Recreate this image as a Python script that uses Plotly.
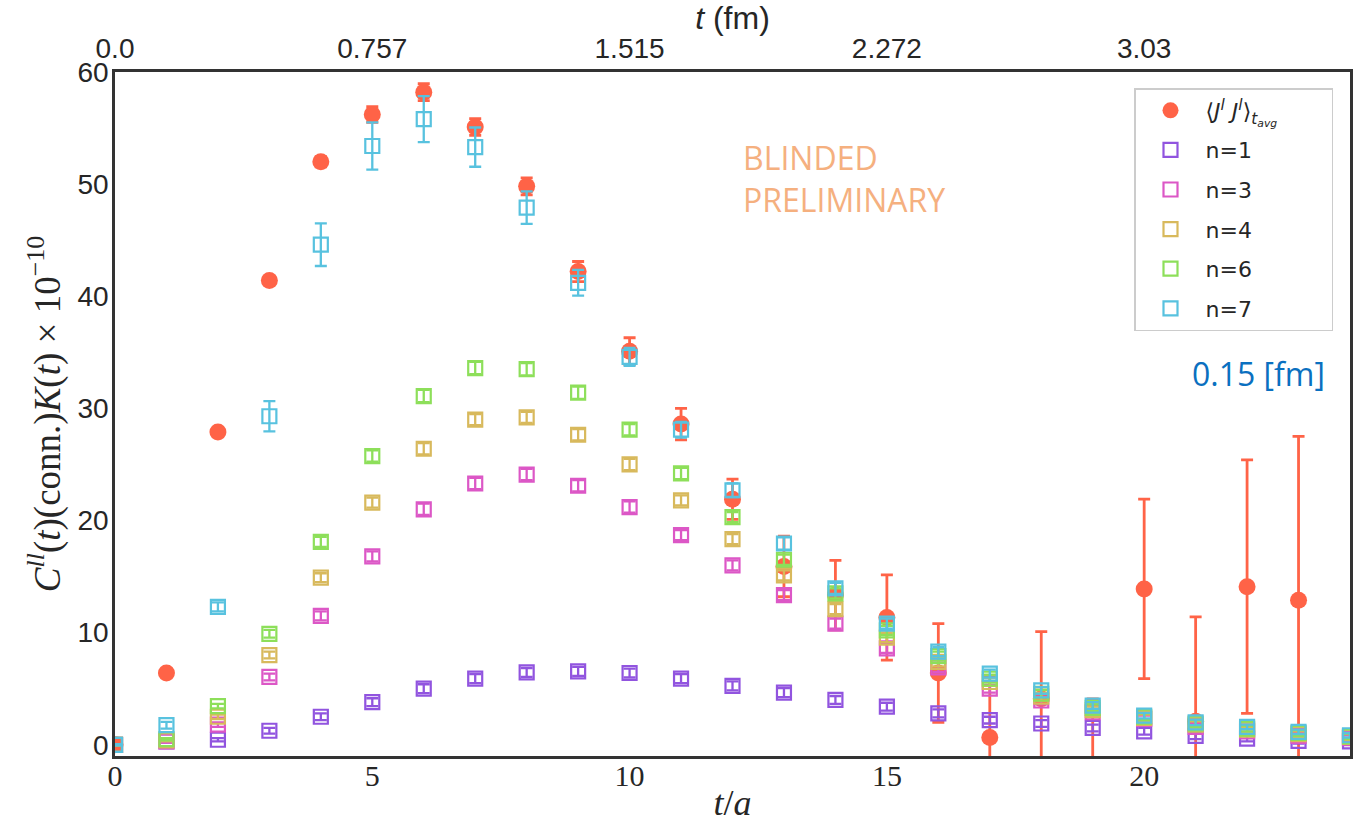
import plotly.graph_objects as go

# ---------------- data ----------------
t_red = list(range(0, 24))
jj_val = [0.0, 6.4, 27.9, 41.4, 52.0, 56.2, 58.2, 55.1, 49.8, 42.2, 35.1, 28.6,
          21.9, 15.9, 13.35, 11.35, 6.4, 0.65, 4.1, -5.0, 13.9, 2.1, 14.1, 12.9]
jj_err = [0.05, 0.1, 0.15, 0.25, 0.45, 0.7, 0.75, 0.75, 0.75, 0.9, 1.2, 1.4,
          1.8, 2.7, 3.1, 3.8, 4.4, 5.5, 6.0, 9.1, 8.0, 9.3, 11.3, 14.6]

t_n = list(range(0, 25))
n1_val = [0.0, 0.3, 0.45, 1.25, 2.5, 3.8, 5.0, 5.9, 6.45, 6.55, 6.4, 5.9, 5.25,
          4.65, 4.0, 3.4, 2.8, 2.2, 1.9, 1.5, 1.2, 0.8, 0.55, 0.35, 0.3]
n1_err = [0.05, 0.1, 0.15, 0.25, 0.3, 0.35, 0.4, 0.4, 0.4, 0.4, 0.4, 0.4, 0.4,
          0.4, 0.35, 0.35, 0.35, 0.3, 0.3, 0.3, 0.3, 0.3, 0.25, 0.25, 0.25]
n3_val = [0.0, 0.3, 1.8, 6.05, 11.5, 16.8, 21.0, 23.3, 24.1, 23.1, 21.2, 18.7, 16.0,
          13.35, 10.8, 8.6, 6.9, 5.0, 3.95, 2.9, 2.3, 1.6, 1.2, 0.8, 0.6]
n3_err = [0.05, 0.1, 0.2, 0.3, 0.4, 0.45, 0.5, 0.5, 0.5, 0.5, 0.5, 0.45, 0.45,
          0.45, 0.45, 0.4, 0.4, 0.35, 0.35, 0.3, 0.3, 0.3, 0.25, 0.25, 0.25]
n4_val = [0.0, 0.4, 2.5, 8.0, 14.9, 21.6, 26.4, 29.0, 29.2, 27.65, 25.0, 21.8, 18.35,
          15.1, 12.1, 9.55, 7.4, 5.6, 4.3, 3.1, 2.4, 1.8, 1.35, 0.95, 0.7]
n4_err = [0.05, 0.1, 0.2, 0.3, 0.4, 0.45, 0.5, 0.5, 0.5, 0.5, 0.5, 0.45, 0.45,
          0.45, 0.45, 0.4, 0.4, 0.35, 0.35, 0.3, 0.3, 0.3, 0.25, 0.25, 0.25]
n6_val = [0.0, 0.5, 3.45, 9.9, 18.1, 25.75, 31.1, 33.6, 33.5, 31.4, 28.1, 24.2, 20.3,
          16.5, 13.5, 10.2, 7.9, 5.9, 4.55, 3.3, 2.5, 1.9, 1.45, 1.05, 0.75]
n6_err = [0.05, 0.1, 0.2, 0.35, 0.45, 0.5, 0.55, 0.55, 0.55, 0.55, 0.5, 0.5, 0.45,
          0.45, 0.45, 0.4, 0.4, 0.35, 0.35, 0.3, 0.3, 0.3, 0.25, 0.25, 0.25]
n7_val = [0.0, 1.75, 12.3, 29.3, 44.6, 53.4, 55.8, 53.3, 47.9, 41.2, 34.6, 28.1, 22.7,
          17.95, 13.95, 10.8, 8.3, 6.35, 4.85, 3.5, 2.6, 2.0, 1.6, 1.15, 0.85]
n7_err = [0.05, 0.3, 0.4, 1.35, 1.9, 2.1, 2.05, 1.75, 1.45, 1.15, 0.8, 0.7, 0.6,
          0.55, 0.5, 0.45, 0.4, 0.35, 0.3, 0.3, 0.25, 0.25, 0.2, 0.2, 0.2]

top_tickvals = [0, 5, 10, 15, 20]
top_ticktext = ["0.0", "0.757", "1.515", "2.272", "3.03"]
y_ticks = [0, 10, 20, 30, 40, 50, 60]

series = [
    ("n=1", n1_val, n1_err, "#9154df"),
    ("n=3", n3_val, n3_err, "#dc57c6"),
    ("n=4", n4_val, n4_err, "#d8b95c"),
    ("n=6", n6_val, n6_err, "#8ddf5a"),
    ("n=7", n7_val, n7_err, "#58c2df"),
]

RED = "#ff6347"
TXT = "#262626"
L, R, T, B = 115, 5, 72, 80
PW, PH = 1355 - L - R, 836 - T - B

fig = go.Figure()
fig.add_trace(go.Scatter(
    x=t_red, y=jj_val, mode="markers",
    name="⟨<i>J<sup>l</sup> J<sup>l</sup></i>⟩<sub><i>t<sub>avg</sub></i></sub>\u00a0\u00a0\u00a0\u00a0\u00a0\u00a0\u00a0",
    marker=dict(symbol="circle", size=17, color=RED),
    error_y=dict(type="data", array=jj_err, color=RED, thickness=2.8, width=6),
    legendgroup="r",
))
for i, (name, vals, errs, col) in enumerate(series):
    fig.add_trace(go.Scatter(
        x=t_n, y=vals, mode="markers", name=name,
        marker=dict(symbol="square-open", size=14, color=col, line=dict(width=2.2, color=col)),
        error_y=dict(type="data", array=errs, color=col, thickness=2.3, width=6),
        legendgroup="g%d" % i,
    ))

# invisible trace to activate the top axis
fig.add_trace(go.Scatter(x=[0, 24], y=[None, None], xaxis="x2", showlegend=False,
                         hoverinfo="skip", mode="markers"))

fig.add_annotation(text="BLINDED<br>PRELIMINARY", xref="paper", yref="paper",
                   x=(741 - L) / PW, y=(756 - 134) / PH, xanchor="left", yanchor="top",
                   align="left", showarrow=False,
                   font=dict(family="Open Sans", size=32, color="#f5b07f"))
fig.add_annotation(text="0.15 [fm]", xref="paper", yref="paper",
                   x=(1327 - L) / PW, y=(756 - 373) / PH, xanchor="right", yanchor="middle",
                   showarrow=False,
                   font=dict(family="Open Sans", size=32, color="#0a70c0"))

fig.update_layout(
    width=1355, height=836,
    margin=dict(l=L, r=R, t=T, b=B, autoexpand=False),
    paper_bgcolor="white", plot_bgcolor="white",
    showlegend=True,
    legend=dict(x=(1333 - L) / PW, y=(756 - 88) / PH, xanchor="right", yanchor="top",
                bgcolor="white", bordercolor="#cccccc", borderwidth=1.5,
                font=dict(family="DejaVu Sans", size=22, color=TXT),
                itemwidth=60, tracegroupgap=8, traceorder="grouped"),
    xaxis=dict(range=[0, 24], tickvals=top_tickvals, showgrid=False, zeroline=False,
               showline=True, mirror=True, linecolor="#333333", linewidth=2.5,
               ticks="", ticklabelstandoff=-9, automargin=False,
               tickfont=dict(family="Liberation Serif", size=30, color=TXT),
               title=dict(text="<i>t</i>/<i>a</i>", standoff=0,
                          font=dict(family="Liberation Serif", size=36, color=TXT))),
    xaxis2=dict(range=[0, 24], overlaying="x", side="top", tickvals=top_tickvals,
                ticktext=top_ticktext, showgrid=False, zeroline=False, showline=False,
                ticks="", ticklabelstandoff=7, automargin=False,
                tickfont=dict(family="Liberation Sans", size=28, color=TXT),
                title=dict(text="<i>t</i> (fm)", standoff=0,
                           font=dict(family="Liberation Sans", size=32, color=TXT))),
    yaxis=dict(range=[-1, 60], tickvals=y_ticks, showgrid=False, zeroline=False,
               showline=True, mirror=True, linecolor="#333333", linewidth=2.5,
               ticks="", ticklabelstandoff=-2, automargin=False,
               tickfont=dict(family="Liberation Sans", size=28, color=TXT),
               title=dict(text="<i>C<sup>ll</sup></i>(<i>t</i>)(conn.)<i>K</i>(<i>t</i>) × 10<sup>−10</sup>",
                          standoff=6,
                          font=dict(family="Liberation Serif", size=37, color=TXT))),
)

fig.write_html("out.html")
